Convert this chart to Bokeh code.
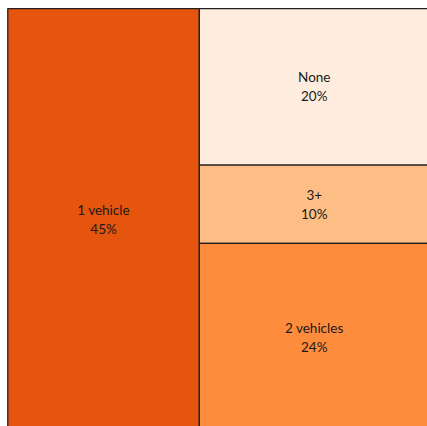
from bokeh.plotting import figure
from bokeh.models import ColumnDataSource, Range1d
from bokeh.core.properties import value
from bokeh.embed import file_html
from bokeh.resources import INLINE

# Data
categories = ["1 vehicle", "None", "3+", "2 vehicles"]
shares = [45, 20, 10, 24]
colors = ["#e6550d", "#feedde", "#fdbe85", "#fd8d3c"]

total = sum(shares)
# slice-and-dice layout: first item takes a full-height column, rest stack in the remaining column
left, right, top, bottom = [], [], [], []
first = shares[0]
left.append(0); right.append(first); bottom.append(0); top.append(total)
rest = sum(shares[1:])
y = total
for s in shares[1:]:
    h = s / rest * total
    left.append(first); right.append(total)
    top.append(y); bottom.append(y - h)
    y -= h

labels = [f"{c}\n{s}%" for c, s in zip(categories, shares)]
cx = [(a + b) / 2 for a, b in zip(left, right)]
cy = [(a + b) / 2 for a, b in zip(top, bottom)]

src = ColumnDataSource(dict(left=left, right=right, top=top, bottom=bottom,
                            color=colors, label=labels, cx=cx, cy=cy))

p = figure(width=427, height=426, output_backend="svg", toolbar_location=None,
           x_range=Range1d(-0.3, total - 0.4), y_range=Range1d(1.1, total + 0.25),
           min_border_left=6, min_border_top=7, min_border_right=0, min_border_bottom=0)
p.axis.visible = False
p.grid.visible = False
p.outline_line_color = None
p.background_fill_color = "white"
p.border_fill_color = "white"

p.quad(left="left", right="right", top="top", bottom="bottom", source=src,
       fill_color="color", line_color="#222222", line_width=1.3)
p.text(x="cx", y="cy", text="label", source=src, text_align="center",
       text_baseline="middle", text_font=value("Lato"), text_font_size="13.5px",
       text_color="#1a1a1a", text_line_height=1.2)

open("out.html", "w").write(file_html(p, INLINE))
